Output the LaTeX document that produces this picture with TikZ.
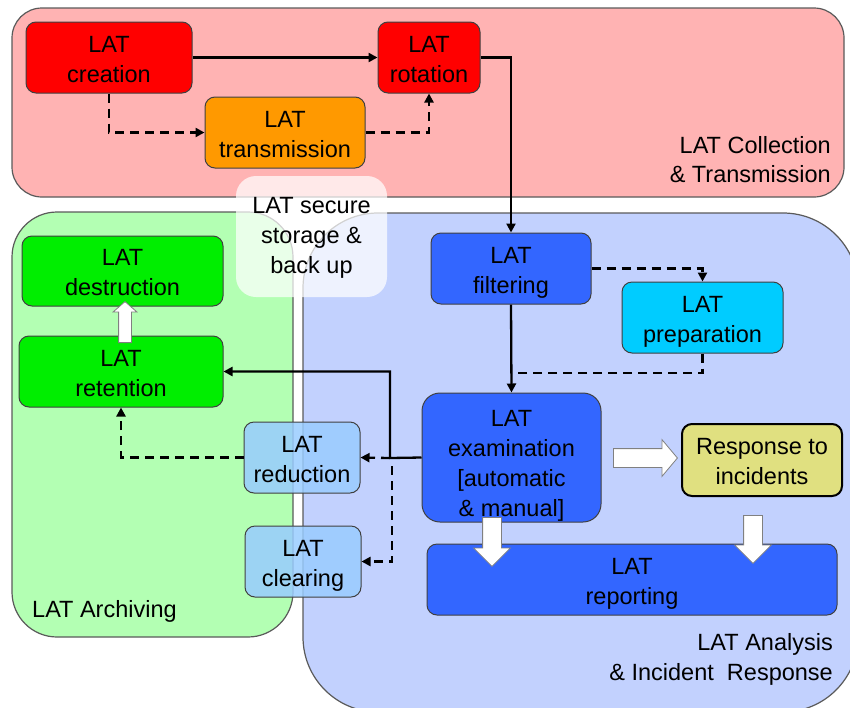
\documentclass[tikz,border=0pt]{standalone}
\usepackage{fontspec}
\setmainfont{Liberation Sans}
\usetikzlibrary{arrows.meta,shapes.arrows}
\definecolor{regRed}{HTML}{FFB3B3}
\definecolor{regGreen}{HTML}{B3FFB3}
\definecolor{regBlue}{HTML}{C2D1FE}
\definecolor{cRed}{HTML}{FF0000}
\definecolor{cOrange}{HTML}{FF9900}
\definecolor{cGreen}{HTML}{00EE00}
\definecolor{cBlue}{HTML}{3366FF}
\definecolor{cCyan}{HTML}{00CCFF}
\definecolor{cLight}{HTML}{99CCFF}
\definecolor{cKhaki}{HTML}{E0E080}
\definecolor{regLine}{HTML}{5A5A5A}
\newcommand\lstr{\rule[-6pt]{0pt}{31pt}}
\tikzset{
  lfont/.style={font={\fontsize{23.5}{30}\selectfont\lineskiplimit=-100pt}},
  region/.style={draw=regLine, line width=1.2pt},
  box/.style={draw=black!75, line width=1pt, rounded corners=10pt, inner sep=0pt, align=center, lfont},
  lbl/.style={inner sep=0pt, lfont},
  conn/.style={line width=2.3pt, -{Triangle[length=9pt,width=9pt]}},
  plain/.style={line width=2.3pt},
  dconn/.style={conn, dash pattern=on 9pt off 6pt},
  dplain/.style={plain, dash pattern=on 9pt off 6pt},
  blk/.style={single arrow, draw=gray, fill=white, line width=0.8pt, inner xsep=0pt,
    text height=0pt, text depth=0pt, anchor=tail},
}
\begin{document}
\begin{tikzpicture}[x=1pt,y=-1pt]
\useasboundingbox (0,0) rectangle (850,707);
% regions
\draw[region, fill=regRed, rounded corners=30pt] (12,8) rectangle (844,197);
\draw[region, fill=regGreen, rounded corners=45pt] (12,212) rectangle (293,637);
\begin{scope}
\clip (0,0) rectangle (850,707);
\draw[region, fill=regBlue, rounded corners=75pt] (303,213) rectangle (858,712);
\end{scope}
% region labels
\node[lbl, anchor=base east] (lc1) at (831,153) {LAT Collection};
\node[lbl, anchor=base east] (lc2) at (831,182) {\& Transmission};
\node[lbl, anchor=base west] (la) at (32,617) {LAT Archiving};
\node[lbl, anchor=base east] (lr1) at (833,650) {LAT Analysis};
\node[lbl, anchor=base east] (lr2) at (833,680) {\& Incident\ \ Response};
% secure storage box
\node[fill=white, fill opacity=0.72, rounded corners=20pt, minimum width=151pt, minimum height=121pt, inner sep=0pt] (sec) at (311.5,236.5) {};
\node[lbl, align=center] (sectext) at (311.5,233.5) {\lstr LAT secure\\storage \&\\back up\lstr};
% nodes
\node[box, fill=cRed, minimum width=166pt, minimum height=71pt] (creation) at (109,57.5) {\lstr LAT\\creation\lstr};
\node[box, fill=cRed, minimum width=102pt, minimum height=71pt] (rotation) at (429,57.5) {\lstr LAT\\rotation\lstr};
\node[box, fill=cOrange, minimum width=160pt, minimum height=71pt] (transmission) at (285,132.5) {\lstr LAT\\transmission\lstr};
\node[box, fill=cGreen, minimum width=201pt, minimum height=70pt] (destruction) at (122.5,271) {\lstr LAT\\destruction\lstr};
\node[box, fill=cGreen, minimum width=204pt, minimum height=71pt] (retention) at (121,371.5) {\lstr LAT\\retention\lstr};
\node[box, fill=cLight, fill opacity=0.85, text opacity=1, minimum width=116pt, minimum height=71pt] (reduction) at (302,457.5) {\lstr LAT\\reduction\lstr};
\node[box, fill=cLight, fill opacity=0.85, text opacity=1, minimum width=116pt, minimum height=71pt] (clearing) at (303,561.5) {\lstr LAT\\clearing\lstr};
\node[box, fill=cBlue, minimum width=160pt, minimum height=71pt] (filtering) at (511,268.5) {\lstr LAT\\filtering\lstr};
\node[box, fill=cCyan, minimum width=161pt, minimum height=71pt] (preparation) at (702.5,317.5) {\lstr LAT\\preparation\lstr};
\node[box, fill=cBlue, rounded corners=18pt, minimum width=179pt, minimum height=129pt] (examination) at (511.5,457.5) {\rule{0pt}{33pt}LAT\\examination\\{[}automatic\\\& manual{]}\lstr};
\node[box, fill=cKhaki, draw=black, line width=2pt, minimum width=160pt, minimum height=72pt] (response) at (762,460) {\lstr Response to\\incidents\lstr};
\node[box, fill=cBlue, minimum width=410pt, minimum height=71pt] (reporting) at (632,579.5) {\lstr LAT\\reporting\lstr};
% connectors
\draw[conn] (creation.east) -- (rotation.west);
\draw[dconn] (creation.south) |- (transmission.west);
\draw[dconn] (transmission.east) -| (rotation.south);
\draw[conn] (rotation.east) -| (filtering.north);
\draw[dconn] (filtering.east) -| (preparation.north);
\draw[conn] (filtering.south) -- (examination.north);
\coordinate (pj) at (511,373);
\draw[dplain] (preparation.south) |- (pj);
\coordinate (ej) at (390,458);
\draw[conn] (examination.west) -- (ej) |- (retention.east);
\draw[dconn] (ej) -- (reduction.east);
\coordinate (ej2) at (392,466);
\draw[dconn] (ej2) |- (clearing.east);
\draw[dconn] (reduction.west) -| (retention.south);
% block arrows
\node[blk, inner ysep=6pt, single arrow head extend=5.5pt, single arrow tip angle=98, minimum height=41pt, rotate=90] (up1) at (125,343) {};
\node[blk, inner ysep=9pt, single arrow head extend=9pt, single arrow tip angle=100, minimum height=64pt] (right1) at (613,458) {};
\node[blk, inner ysep=9pt, single arrow head extend=9pt, single arrow tip angle=90, minimum height=49pt, rotate=-90] (down1) at (492,517) {};
\node[blk, inner ysep=9pt, single arrow head extend=9pt, single arrow tip angle=90, minimum height=48pt, rotate=-90] (down2) at (753,515) {};
\end{tikzpicture}
\end{document}
